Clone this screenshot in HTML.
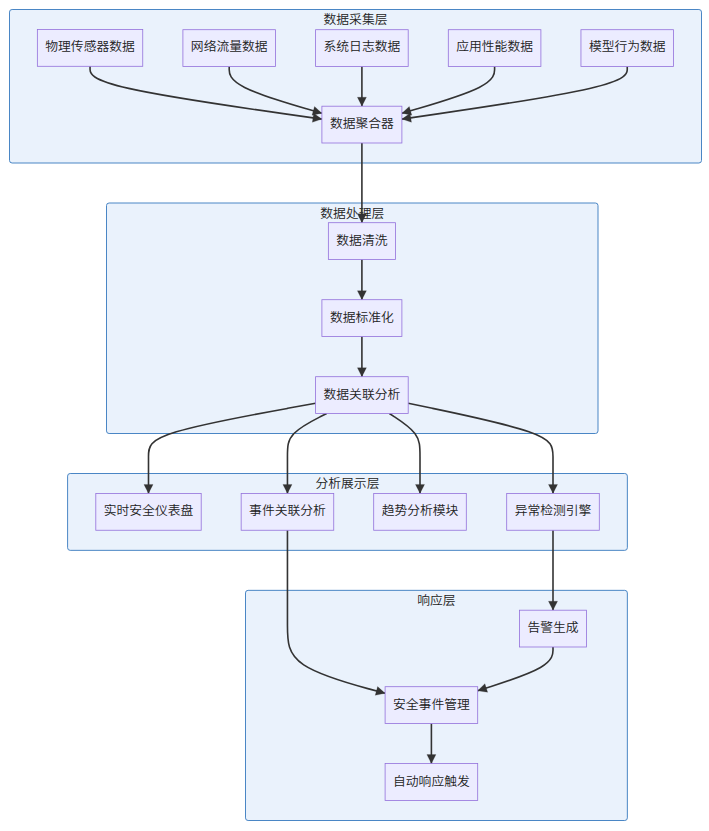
<!DOCTYPE html>
<html lang="zh-CN">
<head>
<meta charset="utf-8">
<title>安全数据处理流程</title>
<style>
html,body{margin:0;padding:0;background:#ffffff;}
body{width:709px;height:831px;overflow:hidden;}
svg{display:block;}
.cluster rect{fill:#eaf2fc;stroke:#4a86c5;stroke-width:1px;}
.node rect{fill:#ececff;stroke:#9370db;stroke-width:0.8px;}
.edge{fill:none;stroke:#333333;stroke-width:1.6px;}
.arrow{fill:#333333;stroke:#333333;stroke-width:0.2px;stroke-linejoin:miter;}
text{font-family:"Liberation Sans", "Noto Sans CJK SC", sans-serif;font-size:12.8px;font-weight:350;fill:#222222;text-anchor:middle;}
</style>
</head>
<body>
<svg width="709" height="831" viewBox="0 0 709 831">
<g class="clusters">
<g class="cluster"><rect x="9.50" y="9.50" width="692.00" height="153.50" rx="2.6" ry="2.6"/><text transform="translate(355.50,24) scale(1,0.96)">数据采集层</text></g>
<g class="cluster"><rect x="106.50" y="203.00" width="491.50" height="230.50" rx="2.6" ry="2.6"/><text transform="translate(352.25,218) scale(1,0.96)">数据处理层</text></g>
<g class="cluster"><rect x="67.60" y="473.50" width="559.75" height="76.85" rx="2.6" ry="2.6"/><text transform="translate(347.48,488) scale(1,0.96)">分析展示层</text></g>
<g class="cluster"><rect x="245.50" y="590.35" width="381.85" height="230.15" rx="2.6" ry="2.6"/><text transform="translate(436.43,605) scale(1,0.96)">响应层</text></g>
</g>
<g class="edges">
<path class="edge" d="M90.05,66.30L90.05,69.62C90.05,72.95,90.05,79.60,128.69,88.40C167.33,97.20,244.62,108.15,283.26,113.62L321.90,119.10"/><path class="arrow" d="M321.90,119.10 L312.35,122.34 L313.63,113.33 Z"/>
<path class="edge" d="M229.20,66.50L229.20,69.79C229.20,73.08,229.20,79.67,244.65,87.47C260.10,95.27,291.00,104.28,306.45,108.79L321.90,113.30"/><path class="arrow" d="M321.90,113.30 L311.99,115.15 L314.53,106.41 Z"/>
<path class="edge" d="M494.60,66.50L494.60,69.79C494.60,73.08,494.60,79.67,479.15,87.47C463.70,95.27,432.80,104.28,417.35,108.79L401.90,113.30"/><path class="arrow" d="M401.90,113.30 L409.27,106.41 L411.81,115.15 Z"/>
<path class="edge" d="M627.25,66.50L627.25,69.79C627.25,73.08,627.25,79.67,589.69,88.43C552.13,97.20,477.02,108.15,439.46,113.62L401.90,119.10"/><path class="arrow" d="M401.90,119.10 L410.15,113.30 L411.46,122.30 Z"/>
<path class="edge" d="M361.90,66.50L361.90,69.79C361.90,73.08,361.90,79.67,361.90,86.28C361.90,92.90,361.90,99.55,361.90,102.88L361.90,106.20"/><path class="arrow" d="M361.90,106.20 L357.35,97.20 L366.45,97.20 Z"/>
<path class="edge" d="M361.90,143.00L361.90,149.64C361.90,156.28,361.90,169.57,361.90,182.85C361.90,196.13,361.90,209.42,361.90,216.06L361.90,222.70"/><path class="arrow" d="M361.90,222.70 L357.35,213.70 L366.45,213.70 Z"/>
<path class="edge" d="M361.90,259.50L361.90,262.85C361.90,266.20,361.90,272.90,361.90,279.60C361.90,286.30,361.90,293.00,361.90,296.35L361.90,299.70"/><path class="arrow" d="M361.90,299.70 L357.35,290.70 L366.45,290.70 Z"/>
<path class="edge" d="M361.90,336.50L361.90,339.85C361.90,343.20,361.90,349.90,361.90,356.60C361.90,363.30,361.90,370.00,361.90,373.35L361.90,376.70"/><path class="arrow" d="M361.90,376.70 L357.35,367.70 L366.45,367.70 Z"/>
<path class="edge" d="M315.60,403.30L287.75,408.33C259.90,413.37,204.20,423.43,176.35,431.80C148.50,440.17,148.50,446.83,148.50,456.82C148.50,466.82,148.50,480.13,148.50,486.79L148.50,493.45"/><path class="arrow" d="M148.50,493.45 L143.95,484.45 L153.05,484.45 Z"/>
<path class="edge" d="M326.70,413.50L320.16,416.83C313.62,420.17,300.53,426.83,293.99,433.50C287.45,440.17,287.45,446.83,287.45,456.82C287.45,466.82,287.45,480.13,287.45,486.79L287.45,493.45"/><path class="arrow" d="M287.45,493.45 L282.90,484.45 L292.00,484.45 Z"/>
<path class="edge" d="M389.40,413.50L394.50,416.83C399.60,420.17,409.80,426.83,414.90,433.50C420.00,440.17,420.00,446.83,420.00,456.82C420.00,466.82,420.00,480.13,420.00,486.79L420.00,493.45"/><path class="arrow" d="M420.00,493.45 L415.45,484.45 L424.55,484.45 Z"/>
<path class="edge" d="M408.20,403.30L432.33,408.33C456.47,413.37,504.73,423.43,528.87,431.80C553.00,440.17,553.00,446.83,553.00,456.82C553.00,466.82,553.00,480.13,553.00,486.79L553.00,493.45"/><path class="arrow" d="M553.00,493.45 L548.45,484.45 L557.55,484.45 Z"/>
<path class="edge" d="M287.45,530.25L287.45,536.88C287.45,543.50,287.45,556.75,287.45,573.14C287.45,589.53,287.45,609.07,287.45,625.21C287.45,641.35,287.45,654.10,303.72,664.88C320.00,675.67,352.55,684.48,368.82,688.89L385.10,693.30"/><path class="arrow" d="M385.10,693.30 L375.22,695.34 L377.60,686.56 Z"/>
<path class="edge" d="M553.00,530.25L553.00,536.88C553.00,543.50,553.00,556.75,553.00,570.07C553.00,583.40,553.00,596.80,553.00,603.50L553.00,610.20"/><path class="arrow" d="M553.00,610.20 L548.45,601.20 L557.55,601.20 Z"/>
<path class="edge" d="M553.00,647.00L553.00,650.31C553.00,653.62,553.00,660.23,540.45,667.52C527.90,674.80,502.80,682.75,490.25,686.73L477.70,690.70"/><path class="arrow" d="M477.70,690.70 L484.91,683.64 L487.65,692.32 Z"/>
<path class="edge" d="M431.40,723.50L431.40,726.84C431.40,730.18,431.40,736.87,431.40,743.55C431.40,750.23,431.40,756.92,431.40,760.26L431.40,763.60"/><path class="arrow" d="M431.40,763.60 L426.85,754.60 L435.95,754.60 Z"/>
</g>
<g class="nodes">
<g class="node"><rect x="37.35" y="29.50" width="105.40" height="36.80"/><text transform="translate(90.05,51) scale(1,0.96)">物理传感器数据</text></g>
<g class="node"><rect x="182.90" y="29.70" width="92.60" height="36.80"/><text transform="translate(229.20,51) scale(1,0.96)">网络流量数据</text></g>
<g class="node"><rect x="315.60" y="29.70" width="92.60" height="36.80"/><text transform="translate(361.90,51) scale(1,0.96)">系统日志数据</text></g>
<g class="node"><rect x="448.30" y="29.70" width="92.60" height="36.80"/><text transform="translate(494.60,51) scale(1,0.96)">应用性能数据</text></g>
<g class="node"><rect x="580.95" y="29.70" width="92.60" height="36.80"/><text transform="translate(627.25,51) scale(1,0.96)">模型行为数据</text></g>
<g class="node"><rect x="321.90" y="106.20" width="80.00" height="36.80"/><text transform="translate(361.90,128) scale(1,0.96)">数据聚合器</text></g>
<g class="node"><rect x="328.35" y="222.70" width="67.10" height="36.80"/><text transform="translate(361.90,245) scale(1,0.96)">数据清洗</text></g>
<g class="node"><rect x="321.90" y="299.70" width="80.00" height="36.80"/><text transform="translate(361.90,322) scale(1,0.96)">数据标准化</text></g>
<g class="node"><rect x="315.60" y="376.70" width="92.60" height="36.80"/><text transform="translate(361.90,399) scale(1,0.96)">数据关联分析</text></g>
<g class="node"><rect x="95.80" y="493.45" width="105.40" height="36.80"/><text transform="translate(148.50,515) scale(1,0.96)">实时安全仪表盘</text></g>
<g class="node"><rect x="241.15" y="493.45" width="92.60" height="36.80"/><text transform="translate(287.45,515) scale(1,0.96)">事件关联分析</text></g>
<g class="node"><rect x="373.70" y="493.45" width="92.60" height="36.80"/><text transform="translate(420.00,515) scale(1,0.96)">趋势分析模块</text></g>
<g class="node"><rect x="506.70" y="493.45" width="92.60" height="36.80"/><text transform="translate(553.00,515) scale(1,0.96)">异常检测引擎</text></g>
<g class="node"><rect x="519.45" y="610.20" width="67.10" height="36.80"/><text transform="translate(553.00,632) scale(1,0.96)">告警生成</text></g>
<g class="node"><rect x="385.10" y="686.70" width="92.60" height="36.80"/><text transform="translate(431.40,709) scale(1,0.96)">安全事件管理</text></g>
<g class="node"><rect x="385.10" y="763.60" width="92.60" height="36.80"/><text transform="translate(431.40,786) scale(1,0.96)">自动响应触发</text></g>
</g>
</svg>
</body>
</html>
